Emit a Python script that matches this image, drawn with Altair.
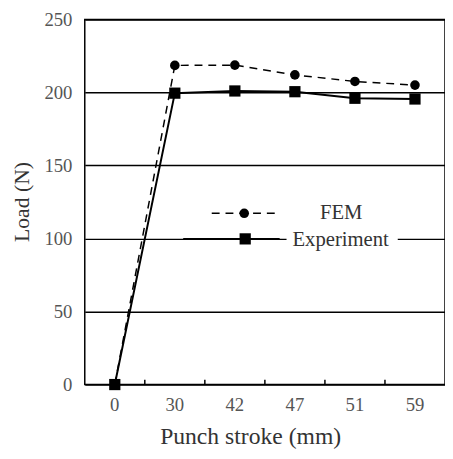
import altair as alt
import pandas as pd

strokes = ["0", "30", "42", "47", "51", "59"]
fem = [0, 218.5, 218.7, 212, 207.5, 205]
exp = [0, 199.5, 201, 200.5, 196, 195.5]
boundaries = ["30", "42", "47", "51", "59"]

W, H = 366, 371
FONT = "Liberation Serif"

df = pd.DataFrame({
    "stroke": strokes * 2,
    "load": fem + exp,
    "series": ["FEM"] * 6 + ["Experiment"] * 6,
})
fem_df = df[df.series == "FEM"]
exp_df = df[df.series == "Experiment"]
bdf = pd.DataFrame({"stroke": boundaries})

xscale = alt.Scale(type="band", domain=strokes, paddingInner=0, paddingOuter=0)
yscale = alt.Scale(domain=[0, 250], nice=False)

xaxis = alt.Axis(
    title="Punch stroke (mm)", labelAngle=0, ticks=False, domain=False,
    labelFont=FONT, labelFontSize=19, labelColor="#555", labelPadding=11,
    titleFont=FONT, titleFontSize=24, titleFontWeight="normal", titleColor="#333",
    titleX=168, titleY=60, titleBaseline="alphabetic", grid=False,
)
yaxis = alt.Axis(
    title="Load (N)", values=[0, 50, 100, 150, 200, 250], ticks=False, domain=False,
    labelFont=FONT, labelFontSize=19, labelColor="#555", labelPadding=13,
    titleFont=FONT, titleFontSize=22, titleFontWeight="normal", titleColor="#333",
    titleAngle=-90, titleX=-64, titleY=185, titleBaseline="middle",
    grid=True, gridColor="black", gridWidth=1.5, gridOpacity=1,
)

X = alt.X("stroke:O", scale=xscale, axis=xaxis, bandPosition=0.5, sort=strokes)
Y = alt.Y("load:Q", scale=yscale, axis=yaxis)

fem_line = alt.Chart(fem_df).mark_line(color="black", strokeWidth=1.5, strokeDash=[8, 6]).encode(x=X, y=Y)
fem_pts = alt.Chart(fem_df).mark_point(shape="circle", filled=True, color="black", size=95, opacity=1).encode(x=X, y=Y)
exp_line = alt.Chart(exp_df).mark_line(color="black", strokeWidth=2).encode(x=X, y=Y)
exp_pts = alt.Chart(exp_df).mark_point(shape="square", filled=True, color="black", size=130, opacity=1).encode(x=X, y=Y)

ticks = alt.Chart(bdf).mark_rule(color="black", strokeWidth=1.5).encode(
    x=alt.X("stroke:O", scale=xscale, bandPosition=0, sort=strokes),
    y=alt.value(H), y2=alt.value(H - 5),
)

# legend
leg = pd.DataFrame({"a": [0]})
base = alt.Chart(leg)
fem_leg_line = base.mark_rule(color="black", strokeWidth=1.5, strokeDash=[8, 6]).encode(
    x=alt.value(129), x2=alt.value(198), y=alt.value(197))
fem_leg_pt = base.mark_point(shape="circle", filled=True, color="black", size=95, opacity=1).encode(
    x=alt.value(162), y=alt.value(197))
fem_leg_txt = base.mark_text(text="FEM", font=FONT, fontSize=21, color="#333", align="left", baseline="middle").encode(
    x=alt.value(239), y=alt.value(197))
exp_leg_line = base.mark_rule(color="black", strokeWidth=2).encode(
    x=alt.value(100), x2=alt.value(198), y=alt.value(223))
exp_leg_pt = base.mark_point(shape="square", filled=True, color="black", size=130, opacity=1).encode(
    x=alt.value(163), y=alt.value(223))
exp_bg = base.mark_rect(color="white").encode(
    x=alt.value(205), x2=alt.value(318), y=alt.value(212), y2=alt.value(234))
exp_leg_txt = base.mark_text(text="Experiment", font=FONT, fontSize=21, color="#333", align="left", baseline="middle").encode(
    x=alt.value(211), y=alt.value(224))

chart = alt.layer(
    fem_line, exp_line, fem_pts, exp_pts, ticks,
    fem_leg_line, exp_leg_line, fem_leg_pt, exp_leg_pt, exp_bg, fem_leg_txt, exp_leg_txt,
).properties(
    width=W, height=H,
    autosize=alt.AutoSizeParams(type="none"),
    padding={"left": 78, "top": 8, "right": 0, "bottom": 68},
    background="white",
).configure_view(stroke="black", strokeWidth=1.5)

chart.save("out.html", embed_options={"renderer": "svg", "actions": False})
